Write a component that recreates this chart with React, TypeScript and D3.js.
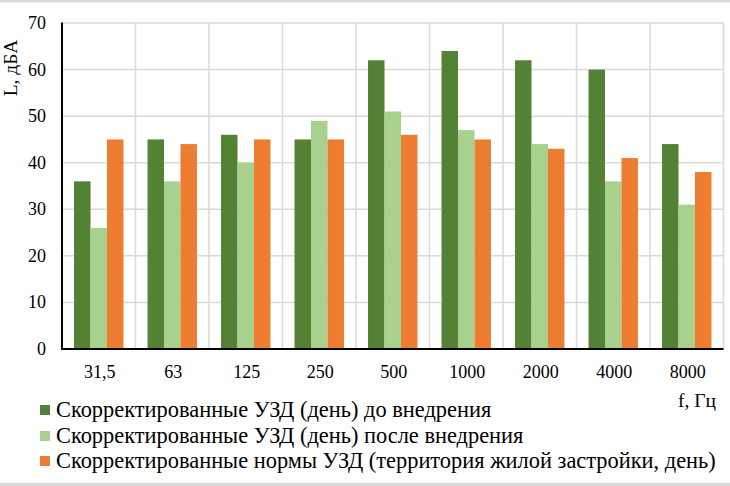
import React from "react";
import * as d3 from "d3";

const categories = ["31,5", "63", "125", "250", "500", "1000", "2000", "4000", "8000"];
const seriesNames = [
  "Скорректированные УЗД (день) до внедрения",
  "Скорректированные УЗД (день) после внедрения",
  "Скорректированные нормы УЗД (территория жилой застройки, день)",
];
const before = [36, 45, 46, 45, 62, 64, 62, 60, 44];
const after = [26, 36, 40, 49, 51, 47, 44, 36, 31];
const norms = [45, 44, 45, 45, 46, 45, 43, 41, 38];
const yTicks = [0, 10, 20, 30, 40, 50, 60, 70];
const colors = ["#548235", "#A9D18E", "#ED7D31"];

const W = 730;
const H = 486;
const left = 62;
const right = 723.5;
const top = 23;
const bottom = 349;
const FONT = '"Liberation Serif", "DejaVu Serif", serif';

export default function App() {
  const seriesData = [before, after, norms];
  const x0 = d3.scaleBand<string>().domain(categories).range([left, right]).padding(0);
  const bw = x0.bandwidth();
  const x1 = d3
    .scaleBand<number>()
    .domain([0, 1, 2])
    .range([0, bw])
    .paddingInner(0)
    .paddingOuter(0.73);
  const y = d3.scaleLinear().domain([0, 70]).range([bottom, top]);

  const legendY = [417, 443, 468];

  return (
    <svg
      width={W}
      height={H}
      style={{ position: "absolute", left: 0, top: 0, background: "#fff", fontFamily: FONT }}
    >
      <rect x={0} y={0} width={W} height={H} fill="#fff" />
      <rect x={0} y={0} width={W} height={2.5} fill="#d9d9d9" />
      <rect x={0} y={483} width={W} height={3} fill="#d9d9d9" />

      {yTicks.map((t) => (
        <line
          key={"h" + t}
          x1={left}
          x2={right}
          y1={y(t)}
          y2={y(t)}
          stroke="#d9d9d9"
          strokeWidth={1.5}
        />
      ))}
      {categories.map((c) => (
        <line
          key={"v" + c}
          x1={(x0(c) as number) + bw}
          x2={(x0(c) as number) + bw}
          y1={top}
          y2={bottom}
          stroke="#d9d9d9"
          strokeWidth={1.5}
        />
      ))}

      {categories.map((c, i) => (
        <g key={"g" + c} transform={`translate(${x0(c)},0)`}>
          {seriesData.map((s, k) => (
            <rect
              key={k}
              x={x1(k) as number}
              y={y(s[i])}
              width={x1.bandwidth()}
              height={bottom - y(s[i])}
              fill={colors[k]}
            />
          ))}
        </g>
      ))}

      <line x1={left} x2={left} y1={top - 0.5} y2={bottom + 1} stroke="#000" strokeWidth={2} />
      <line x1={left - 1} x2={right} y1={bottom} y2={bottom} stroke="#000" strokeWidth={2} />

      {yTicks.map((t) => (
        <text
          key={"yt" + t}
          x={46}
          y={y(t) + 6}
          textAnchor="end"
          fontSize={18}
          fill="#000"
        >
          {t}
        </text>
      ))}
      {categories.map((c) => (
        <text
          key={"xt" + c}
          x={(x0(c) as number) + bw / 2 + 1}
          y={378}
          textAnchor="middle"
          fontSize={18}
          fill="#000"
        >
          {c}
        </text>
      ))}

      <text
        transform={`translate(17,68) rotate(-90)`}
        textAnchor="middle"
        fontSize={19.5}
        fill="#000"
      >
        L, дБА
      </text>
      <text x={716} y={407} textAnchor="end" fontSize={19.5} fill="#000">
        f, Гц
      </text>

      {seriesNames.map((n, k) => (
        <g key={"l" + k}>
          <rect x={40} y={legendY[k] - 12} width={10} height={10} fill={colors[k]} />
          <text x={56} y={legendY[k]} fontSize={22.4} fill="#000">
            {n}
          </text>
        </g>
      ))}
    </svg>
  );
}
